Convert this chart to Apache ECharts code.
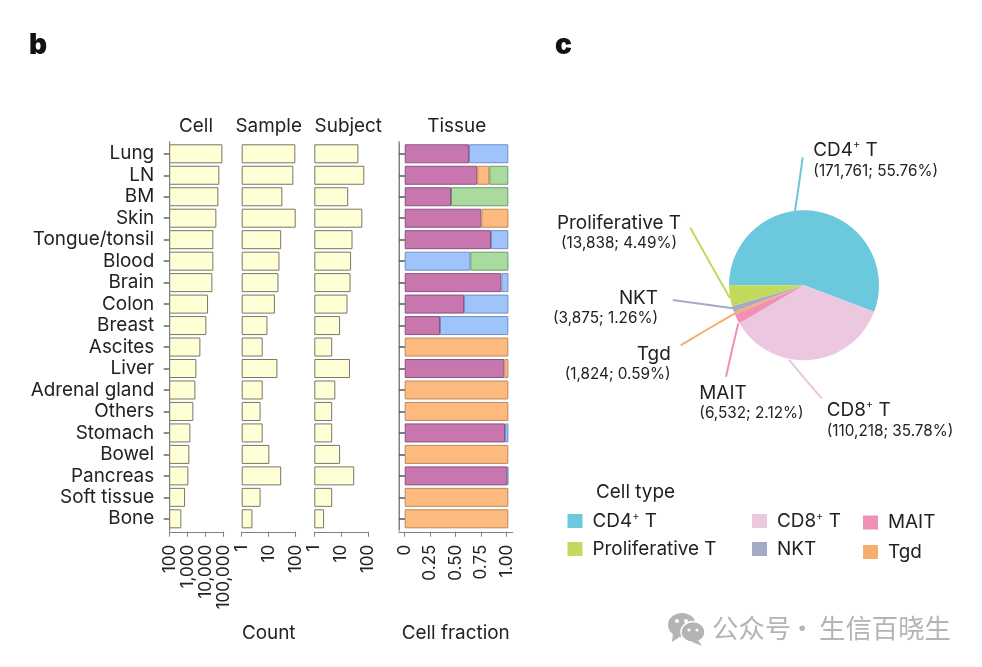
<!DOCTYPE html>
<html><head><meta charset="utf-8">
<script src="https://cdn.jsdelivr.net/npm/echarts@6/dist/echarts.min.js"></script>
<style>html,body{margin:0;padding:0;background:#fff}#c{width:982px;height:667px}</style>
</head><body><div id="c"></div>
<script>
const tissues = ['Lung','LN','BM','Skin','Tongue/tonsil','Blood','Brain','Colon','Breast','Ascites','Liver','Adrenal gland','Others','Stomach','Bowel','Pancreas','Soft tissue','Bone'];
const cellCounts = [84300,57400,50500,39100,26700,26700,23500,13500,10900,5060,3030,2670,2060,1410,1240,1090,711,445];
const sampleCounts = [97,82,32,100,29,25,23,17,9,6,21,6,5,6,10.6,29,5,2.5];
const subjectCounts = [43,71,18,60,26,23,22,17,9,4.6,21,6,4.6,4.6,9,30,4.6,2.3];
const fracPink   = [0.63,0.712,0.454,0.752,0.846,0,0.948,0.582,0.346,0,0.977,0,0,0.984,0,1.007,0,0];
const fracBlue   = [0.386,0,0,0,0.17,0.644,0.069,0.435,0.67,0,0,0,0,0.033,0,0.009,0,0];
const fracOrange = [0,0.118,0,0.265,0,0,0,0,0,1.016,0.04,1.016,1.016,0,1.016,0,1.016,1.016];
const fracGreen  = [0,0.186,0.562,0,0,0.373,0,0,0,0,0,0,0,0,0,0,0,0];
const fractionTicks = [0,0.25,0.5,0.75,1];
const fractionLabels = ['0','0.25','0.50','0.75','1.00'];
const cellTypes = ['CD4+ T','CD8+ T','MAIT','Tgd','NKT','Proliferative T'];
const cellTypeCounts = [171761,110218,6532,1824,3875,13838];
const cellTypeShares = ['55.76%','35.78%','2.12%','0.59%','1.26%','4.49%'];
const cellTypeColors = ['#6CC8DC','#EBC8E0','#F08FB8','#F6AE6C','#A3ABC9','#C3D95C'];

const FONT = 'Inter';
const INK = '#222222';
const AXIS = '#808080';
const gridTop = 143.06, gridH = 386.5;
const barFill = '#FFFFD6', barEdge = '#77776A';
const MAIN = 18.9, TICKF = 17, SUB = 15.3;

const panels = [
  {left:169.7,width:54,min:100,max:100000,data:cellCounts,name:'Cell'},
  {left:241.7,width:54,min:1,max:100,data:sampleCounts,name:'Sample'},
  {left:314.3,width:54,min:1,max:100,data:subjectCounts,name:'Subject'}
];
const grid = [], xAxis = [], yAxis = [], series = [];
panels.forEach((p,i)=>{
  grid.push({left:p.left,top:gridTop,width:p.width,height:gridH});
  xAxis.push({type:'log',logBase:10,gridIndex:i,min:p.min,max:p.max,position:'bottom',offset:2.2,
    axisLine:{show:true,onZero:false,lineStyle:{color:AXIS,width:1}},
    axisTick:{show:true,length:5,lineStyle:{color:AXIS}},minorTick:{show:false},
    splitLine:{show:false},minorSplitLine:{show:false},
    axisLabel:{rotate:90,margin:13,fontFamily:FONT,fontSize:TICKF,color:INK,
      formatter:v=>Number(v).toLocaleString('en-US')}});
  yAxis.push({type:'category',gridIndex:i,data:tissues,inverse:true,
    axisLine:{show:i===0,onZero:false,lineStyle:{color:AXIS}},
    axisTick:{show:i===0,interval:0,alignWithLabel:true,length:6,lineStyle:{color:'#666666',width:1.5}},
    axisLabel:{show:i===0,interval:0,margin:15.5,padding:[2,0,0,0],fontFamily:FONT,fontSize:MAIN,color:INK}});
  series.push({type:'bar',name:p.name,xAxisIndex:i,yAxisIndex:i,data:p.data,barWidth:19,silent:true,
    itemStyle:{color:barFill,borderColor:barEdge,borderWidth:1}});
});
grid.push({left:399,top:gridTop,width:113.7,height:gridH});
xAxis.push({type:'value',gridIndex:3,min:-0.056,max:1.059,offset:2.2,
  axisLine:{show:true,onZero:false,lineStyle:{color:AXIS,width:1}},
  axisTick:{show:true,length:5,lineStyle:{color:AXIS},customValues:fractionTicks},
  splitLine:{show:false},
  axisLabel:{rotate:90,margin:13,fontFamily:FONT,fontSize:TICKF,color:INK,customValues:fractionTicks,
    showMinLabel:true,showMaxLabel:true,
    formatter:v=>fractionLabels[fractionTicks.indexOf(v)]}});
yAxis.push({type:'category',gridIndex:3,data:tissues,inverse:true,
  axisLine:{show:true,onZero:false,lineStyle:{color:AXIS,width:1}},
  axisTick:{show:true,interval:0,inside:true,alignWithLabel:true,length:6,lineStyle:{color:'#555555',width:1.5}},
  axisLabel:{show:false}});
[[fracPink,'#C776AE','#8C5280'],[fracBlue,'#9FC4FC','#6F8FBF'],[fracOrange,'#FDB97E','#B98A60'],[fracGreen,'#A9DB9F','#6F9A68']].forEach((s,k)=>{
  series.push({type:'bar',xAxisIndex:3,yAxisIndex:3,stack:'tissue',barWidth:19,silent:true,
    name:'tissue'+k,
    data:s[0].map(v=>v===0?null:v),
    itemStyle:{color:s[1],borderColor:s[2],borderWidth:1}});
});

const labelSpec = {
  'CD4+ T':{pos:[813.3,140],align:'left',line:[[795,211],[799,184],[802.7,157.3]]},
  'CD8+ T':{pos:[826.7,400],align:'left',line:[[789,359.7],[805,379],[821.7,398.3]]},
  'MAIT':{pos:[699.3,382.5],align:'left',line:[[738.3,323.3],[732,350],[726,376.7]]},
  'Tgd':{pos:[670.7,343.5],align:'right',line:[[735,313.3],[708,329],[680.7,345.3]]},
  'NKT':{pos:[658,287.5],align:'right',line:[[732.7,308.3],[702,304],[672.7,300]]},
  'Proliferative T':{pos:[619,212.5],align:'center',line:[[730,298.3],[710,263],[690.3,227.7]]}
};
function nameRich(n){
  const m = n.match(/^(CD\d)\+ T$/);
  return m ? `{n|${m[1]}}{s|+}{n| T}` : `{n|${n}}`;
}
const pieData = cellTypes.map((n,i)=>({name:n,value:cellTypeCounts[i],share:cellTypeShares[i],itemStyle:{color:cellTypeColors[i]},
  label:{align:labelSpec[n].align},labelLine:{lineStyle:{color:cellTypeColors[i]}}}));
const supStyle = {fontSize:11,fontFamily:FONT,color:INK,verticalAlign:'top',height:10,lineHeight:10};
series.push({type:'pie',center:[804,285.3],radius:[0,75],startAngle:180,clockwise:true,silent:true,
  minShowLabelAngle:0,avoidLabelOverlap:false,
  data:pieData,
  label:{show:true,position:'outside',color:INK,fontFamily:FONT,lineHeight:21,
    formatter:p=>nameRich(p.name)+'\n{v|('+p.value.toLocaleString('en-US')+'; '+p.data.share+')}',
    rich:{n:{fontSize:MAIN,fontFamily:FONT,color:INK,lineHeight:21},
          s:supStyle,
          v:{fontSize:SUB,fontFamily:FONT,color:INK,lineHeight:20}}},
  labelLine:{show:true,smooth:false,lineStyle:{width:2}},
  labelLayout:p=>{
    const n = cellTypes[p.dataIndex], s = labelSpec[n];
    return {x:s.pos[0],y:s.pos[1],align:s.align,verticalAlign:'top',labelLinePoints:s.line};
  }
});

const legendFmt = n=>'{g| }'+nameRich(n);
const legendText = {fontFamily:FONT,fontSize:MAIN,color:INK,
  rich:{g:{width:5},n:{fontSize:MAIN,fontFamily:FONT,color:INK},s:supStyle}};
const legendCols = [[['CD4+ T','Proliferative T'],562.5,506,9],[['CD8+ T','NKT'],747,506,9],[['MAIT','Tgd'],858,508,10.5]];
const legend = legendCols.map(c=>({data:c[0],left:c[1],top:c[2],orient:'vertical',itemWidth:15,itemHeight:14,itemGap:c[3],
  selectedMode:false,icon:'rect',formatter:legendFmt,textStyle:legendText}));

const titles = [
  ['Cell',196,112],['Sample',268.7,112],['Subject',348.3,112],['Tissue',456.7,112],
  ['Count',268.7,619],['Cell fraction',455.7,619]
].map(t=>({text:t[0],left:t[1]-5,top:t[2],textAlign:'center',textStyle:{fontFamily:FONT,fontSize:MAIN,fontWeight:'normal',color:INK}}));
titles.push({text:'b',left:24,top:27,textStyle:{fontFamily:FONT,fontSize:28,fontWeight:900,color:'#111'}});
titles.push({text:'c',left:550,top:27,textStyle:{fontFamily:FONT,fontSize:28,fontWeight:900,color:'#111'}});
titles.push({text:'Cell type',left:591,top:477.5,textStyle:{fontFamily:FONT,fontSize:MAIN,fontWeight:'normal',color:INK}});

const WM = '#B4B4B4';
const wmFont = {fontFamily:'Noto Sans CJK SC',fontSize:26.4,fill:WM};
const graphic = [
  {type:'line',silent:true,shape:{x1:169.7,y1:141,x2:169.7,y2:531.7},style:{stroke:AXIS,lineWidth:1}},
  {type:'line',silent:true,shape:{x1:399,y1:141,x2:399,y2:531.7},style:{stroke:AXIS,lineWidth:1}},
  {type:'ellipse',silent:true,shape:{cx:682,cy:625,rx:14,ry:12},style:{fill:WM}},
  {type:'polygon',silent:true,shape:{points:[[673,633],[672,642],[681,636]]},style:{fill:WM}},
  {type:'ellipse',silent:true,shape:{cx:693,cy:632,rx:12,ry:10.5},style:{fill:WM,stroke:'#fff',lineWidth:1.5}},
  {type:'polygon',silent:true,shape:{points:[[698,640],[702,646],[692,642]]},style:{fill:WM}},
  {type:'circle',silent:true,shape:{cx:677,cy:621,r:2},style:{fill:'#fff'}},
  {type:'circle',silent:true,shape:{cx:686,cy:621,r:2},style:{fill:'#fff'}},
  {type:'circle',silent:true,shape:{cx:689,cy:630,r:1.6},style:{fill:'#fff'}},
  {type:'circle',silent:true,shape:{cx:697,cy:630,r:1.6},style:{fill:'#fff'}},
  {type:'text',silent:true,style:Object.assign({text:'公众号',x:712,y:628,verticalAlign:'middle'},wmFont)},
  {type:'text',silent:true,style:Object.assign({text:'·',x:802.3,y:628,align:'center',verticalAlign:'middle'},wmFont)},
  {type:'text',silent:true,style:Object.assign({text:'生信百晓生',x:819,y:628,verticalAlign:'middle'},wmFont)}
];

const chart = echarts.init(document.getElementById('c'),null,{renderer:'canvas'});
chart.setOption({animation:false,backgroundColor:'#fff',title:titles,grid,xAxis,yAxis,series,legend,graphic,tooltip:{show:false}});
</script></body></html>
